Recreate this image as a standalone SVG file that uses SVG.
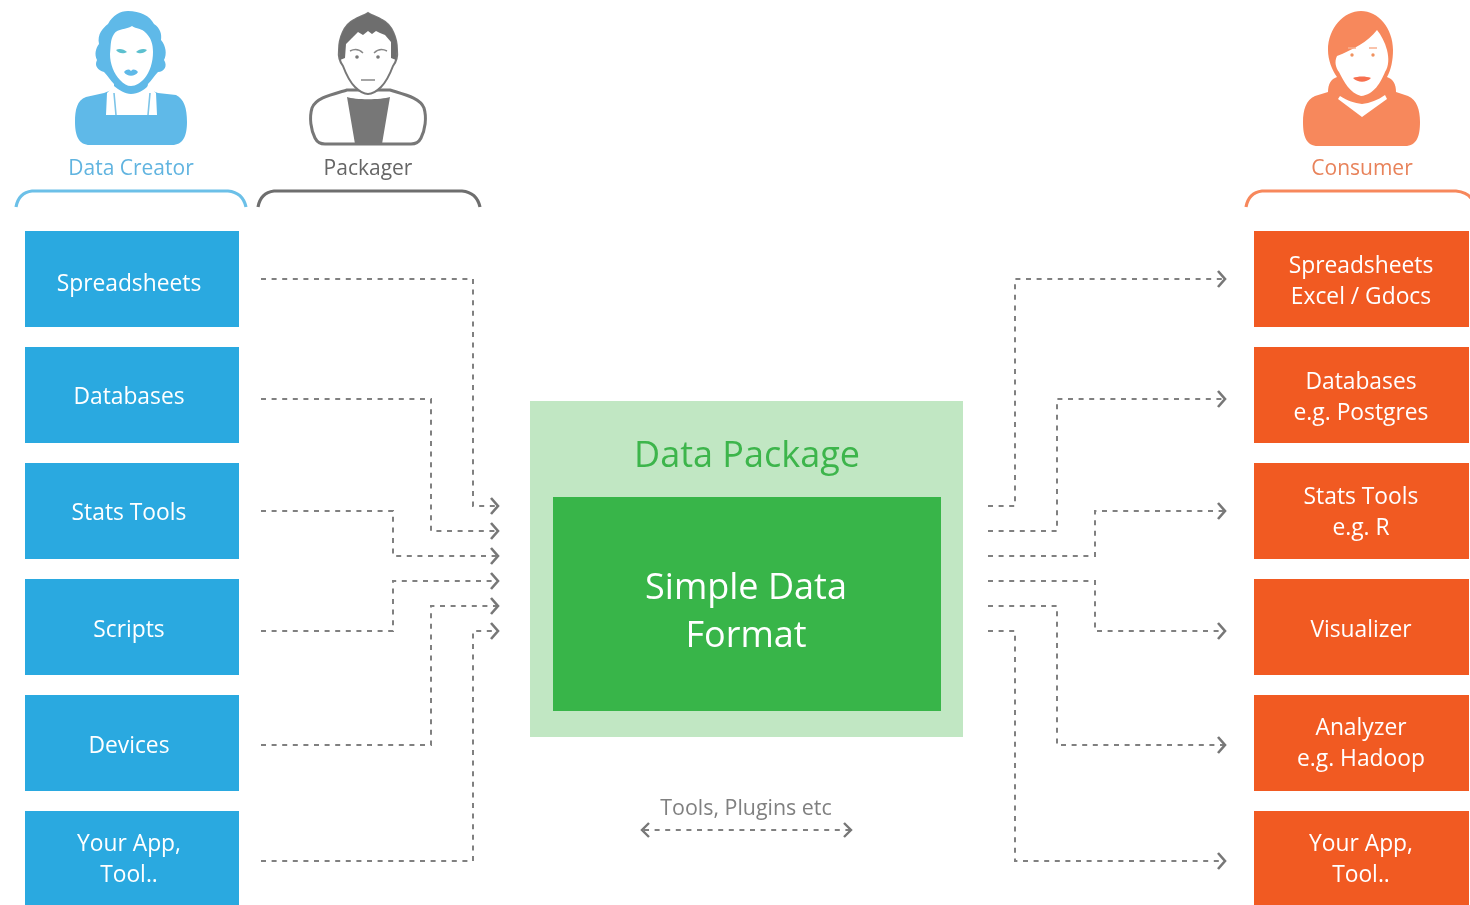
<svg xmlns="http://www.w3.org/2000/svg" width="1470" height="905" viewBox="0 0 1470 905">
<style>
text{font-family:"Open Sans","Noto Sans","Liberation Sans",sans-serif;text-anchor:middle}
.w{fill:#fff;font-size:22.8px}
.b{fill:#29a9e0}.o{fill:#f15a24}
.c{fill:none;stroke:#808080;stroke-width:2;stroke-dasharray:5 5.6}
.br{fill:none;stroke-width:3.2}
</style>
<defs>
<filter id="soft" x="-2%" y="-2%" width="104%" height="104%"><feGaussianBlur stdDeviation="0.55"/></filter>
<path id="ah" d="M-7 -8L0 0L-7 8" fill="none" stroke="#777" stroke-width="2.6"/>
</defs>
<rect width="1470" height="905" fill="#fff"/>
<g filter="url(#soft)">
<g id="data-creator">
<path d="M128 11C140 11 150 16 154 24C160 28 162 34 161 40C166 46 167 54 164 60C168 66 164 72 158 72C154 76 152 80 148 84L147 89L158 93L176 95C184 99 187 108 187 122C187 136 183 145 172 145L90 145C79 145 75 136 75 122C75 110 77 100 86 97L104 93L114 89L114 84C110 80 108 76 104 72C98 70 94 66 97 60C94 54 96 48 99 44C97 34 103 28 108 24C113 15 120 11 128 11Z" fill="#5fb9e8"/>
<path d="M132 26C126 30 118 28 114 34C110 40 111 46 110 54C110 64 114 74 120 80C124 84 127 86 131 86C136 86 140 83 144 79C150 72 153 62 153 52C153 44 151 38 146 33C142 28 136 29 132 26Z" fill="#fff"/>
<path d="M114 86L107 93L106 115L157 115L156 93L148 86C144 90 138 94 131 94C125 94 119 90 114 86Z" fill="#fff"/>
<path d="M114 93L116 115M150 93L148 115" stroke="#7cc4e8" stroke-width="1.6" fill="none"/>
<path d="M116 50C119 48 124 49 127 52C124 54 119 54 116 50ZM136 52C139 49 144 48 147 50C144 54 139 54 136 52Z" fill="#5cc0cf"/>
<path d="M124 72C127 69 129 69 131 71C133 69 135 69 138 72C135 77 127 77 124 72Z" fill="#5fb9e8"/>
<text x="131" y="175" font-size="21" fill="#61b4e0">Data Creator</text>
<path class="br" stroke="#6cc0e8" d="M16 207C18 196 24 192 32 191L228 191C238 192 244 198 246 207"/>
</g>
<g id="packager">
<path d="M312 108C316 98 330 95 347 90L390 90C406 95 420 98 424 108C427 118 425 130 421 138C419 142 416 144 411 144L325 144C320 144 317 142 315 138C311 130 309 118 312 108Z" fill="#fff" stroke="#777" stroke-width="3"/>
<path d="M347 97C355 100 381 100 390 97L382 144L355 144Z" fill="#777"/>
<path d="M368 13C372 16 378 17 382 20C392 25 397 38 397 50C398 58 396 62 393 66C390 74 386 82 381 87C376 92 372 94 368 94C364 94 360 92 355 87C350 82 346 74 343 66C340 62 338 58 339 50C339 38 344 25 354 20C358 17 364 16 368 13Z" fill="#fff" stroke="#777" stroke-width="2"/>
<path d="M368 13C372 16 378 17 382 20C392 25 397 38 397 50L396 60L391 58L391 42L385 35L380 33L376 31L372 34L368 31L363 35L358 32L352 38L346 44L345 58L340 60L339 50C339 38 344 25 354 20C358 17 364 16 368 13Z" fill="#6e6e6e"/>
<path d="M350 51C354 49 359 49 363 53M374 53C378 49 383 49 387 51M361 80L375 80" stroke="#888" stroke-width="1.4" fill="none"/>
<circle cx="357" cy="57" r="1.8" fill="#777"/><circle cx="378" cy="57" r="1.8" fill="#777"/>
<text x="368" y="175" font-size="21" fill="#666">Packager</text>
<path class="br" stroke="#6e6e6e" d="M258 207C260 196 266 192 274 191L462 191C472 192 478 198 480 207"/>
</g>
<g id="consumer">
<path d="M1361 11C1378 11 1393 28 1393 50C1393 60 1391 70 1387 77C1393 79 1396 84 1396 92L1408 96C1417 100 1420 110 1420 122C1420 136 1417 146 1405 146L1318 146C1306 146 1303 136 1303 122C1303 110 1306 100 1315 96L1328 92C1328 84 1331 79 1337 77C1332 70 1328 60 1328 50C1328 28 1344 11 1361 11Z" fill="#f7885c"/>
<path d="M1377 30C1368 42 1352 50 1337 56C1334 62 1336 68 1339 72C1344 82 1350 93 1361 96C1374 95 1381 82 1385 72C1389 66 1389 58 1387 50C1385 42 1381 35 1377 30Z" fill="#fff"/>
<path d="M1340 96C1348 101 1354 103 1362 104C1370 103 1378 100 1385 95L1387 99L1362 117L1338 99Z" fill="#fff"/>
<path d="M1353 78C1358 76 1366 76 1371 78C1366 83 1358 83 1353 78Z" fill="#f7704f"/>
<path d="M1348 48L1356 48M1369 48L1377 48" stroke="#f7b090" stroke-width="1.5" fill="none"/>
<circle cx="1352" cy="55" r="1.7" fill="#f0925f"/><circle cx="1373" cy="55" r="1.7" fill="#f0925f"/>
<text x="1362" y="175" font-size="21" fill="#e8825a">Consumer</text>
<path class="br" stroke="#f7885c" d="M1246 207C1248 196 1254 192 1262 191L1456 191C1464 192 1468 194 1471 198"/>
</g>
<g id="src-spreadsheets"><rect class="b" x="25" y="231" width="214" height="96"/><text class="w" x="129" y="291">Spreadsheets</text></g>
<g id="src-databases"><rect class="b" x="25" y="347" width="214" height="96"/><text class="w" x="129" y="404">Databases</text></g>
<g id="src-stats"><rect class="b" x="25" y="463" width="214" height="96"/><text class="w" x="129" y="520">Stats Tools</text></g>
<g id="src-scripts"><rect class="b" x="25" y="579" width="214" height="96"/><text class="w" x="129" y="637">Scripts</text></g>
<g id="src-devices"><rect class="b" x="25" y="695" width="214" height="96"/><text class="w" x="129" y="753">Devices</text></g>
<g id="src-app"><rect class="b" x="25" y="811" width="214" height="96"/><text class="w" x="129" y="851">Your App,</text><text class="w" x="129" y="882">Tool..</text></g>
<g id="dst-spreadsheets"><rect class="o" x="1254" y="231" width="215" height="96"/><text class="w" x="1361" y="273">Spreadsheets</text><text class="w" x="1361" y="304">Excel / Gdocs</text></g>
<g id="dst-databases"><rect class="o" x="1254" y="347" width="215" height="96"/><text class="w" x="1361" y="389">Databases</text><text class="w" x="1361" y="420">e.g. Postgres</text></g>
<g id="dst-stats"><rect class="o" x="1254" y="463" width="215" height="96"/><text class="w" x="1361" y="504">Stats Tools</text><text class="w" x="1361" y="535">e.g. R</text></g>
<g id="dst-visualizer"><rect class="o" x="1254" y="579" width="215" height="96"/><text class="w" x="1361" y="637">Visualizer</text></g>
<g id="dst-analyzer"><rect class="o" x="1254" y="695" width="215" height="96"/><text class="w" x="1361" y="735">Analyzer</text><text class="w" x="1361" y="766">e.g. Hadoop</text></g>
<g id="dst-app"><rect class="o" x="1254" y="811" width="215" height="96"/><text class="w" x="1361" y="851">Your App,</text><text class="w" x="1361" y="882">Tool..</text></g>
<g id="data-package">
<rect x="530" y="401" width="433" height="336" fill="#c1e7c3"/>
<text x="747" y="467" font-size="36" fill="#3cb54b">Data Package</text>
</g>
<g id="simple-data-format">
<rect x="553" y="497" width="388" height="214" fill="#39b54a"/>
<text x="746" y="599" font-size="36" fill="#fff">Simple Data</text>
<text x="746" y="647" font-size="36" fill="#fff">Format</text>
</g>
<g id="connectors">
<path class="c" d="M261 279H473V506H497"/><path class="c" d="M261 399H431V531H497"/><path class="c" d="M261 511H393V556H497"/>
<path class="c" d="M261 631H393V581H497"/><path class="c" d="M261 745H431V606H497"/><path class="c" d="M261 861H473V631H497"/>
<path class="c" d="M988 506H1015V279H1224"/><path class="c" d="M988 531H1057V399H1224"/><path class="c" d="M988 556H1095V511H1224"/>
<path class="c" d="M988 581H1095V631H1224"/><path class="c" d="M988 606H1057V745H1224"/><path class="c" d="M988 631H1015V861H1224"/>
<use href="#ah" x="498" y="506"/><use href="#ah" x="498" y="531"/><use href="#ah" x="498" y="556"/><use href="#ah" x="498" y="581"/><use href="#ah" x="498" y="606"/><use href="#ah" x="498" y="631"/>
<use href="#ah" x="1225" y="279"/><use href="#ah" x="1225" y="399"/><use href="#ah" x="1225" y="511"/><use href="#ah" x="1225" y="631"/><use href="#ah" x="1225" y="745"/><use href="#ah" x="1225" y="861"/>
<path class="c" d="M644 830H850"/>
<path d="M649 823L642 830L649 837M844 823L851 830L844 837" fill="none" stroke="#777" stroke-width="2.4"/>
</g>
<text x="746" y="815" font-size="21.4" fill="#808080">Tools, Plugins etc</text>
</g>
</svg>
